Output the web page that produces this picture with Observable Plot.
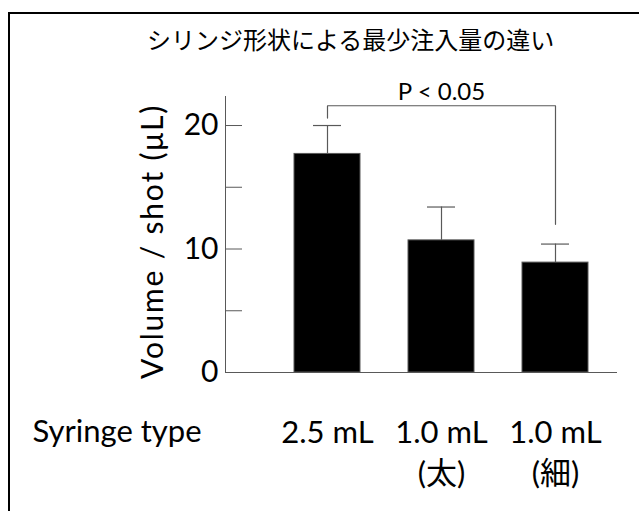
<!DOCTYPE html>
<html><head><meta charset="utf-8">
<script src="https://cdn.jsdelivr.net/npm/d3@7"></script>
<script src="https://cdn.jsdelivr.net/npm/@observablehq/plot@0.6"></script>
<style>
body{margin:0;background:#fff;}
#wrap{position:relative;width:639px;height:511px;overflow:hidden;background:#fff;}
#border{position:absolute;left:8px;top:12px;width:640px;height:520px;border-top:2px solid #000;border-left:2px solid #000;box-sizing:border-box;}
#title{position:absolute;left:147px;top:27px;white-space:nowrap;font-family:"Noto Sans CJK JP",sans-serif;font-size:24px;line-height:24px;color:#000;}
#chart{position:absolute;left:0;top:0;}
</style>
</head><body>
<div id="wrap"><div id="border"></div><div id="chart"></div><div id="title">シリンジ形状による最少注入量の違い</div></div>
<script>
const categories = ["2.5 mL", "1.0 mL (太)", "1.0 mL (細)"];
const means = [17.7, 10.7, 8.9];
const errors = [2.3, 2.7, 1.5];
const yTickLabels = [0, 10, 20];
const yTicksAll = [0, 5, 10, 15, 20];
const bracketCats = [categories[0], categories[0], categories[2], categories[2]];
const bracketVals = [20.6, 21.6, 21.6, 12.0];
const sigText = "P < 0.05";
const sigCat = categories[1];
const sigVal = 22.65;
const xTitle = "Syringe type";
const yTitle = "Volume / shot (μL)";

const data = categories.map((c, i) => ({type: c, value: means[i], upper: means[i] + errors[i]}));
const bracket = bracketCats.map((c, i) => ({x: c, y: bracketVals[i]}));
const gray = "#595959";
const font = "Lato, 'Noto Sans CJK JP', sans-serif";

const chart = Plot.plot({
  width: 639, height: 511,
  marginLeft: 225, marginRight: 22, marginTop: 96, marginBottom: 139,
  style: {fontFamily: font, color: "#000", background: "transparent", overflow: "visible"},
  x: {domain: categories, paddingInner: 0.42, paddingOuter: 0.422, align: 0.7, axis: null},
  y: {domain: [0, 22.35], axis: null},
  marks: [
    Plot.frame({anchor: "left", stroke: gray}),
    Plot.ruleY([0], {stroke: gray}),
    Plot.axisY({ticks: yTicksAll, tickSize: 17, dx: 17, tickFormat: () => "", label: null, stroke: gray}),
    Plot.axisY({ticks: yTickLabels, tickSize: 0, tickPadding: 7, fontSize: 30, label: null, fill: "#000"}),
    Plot.axisX({tickSize: 0, tickPadding: 41, fontSize: 31, lineHeight: 1.33, label: null, fill: "#000",
      tickFormat: d => d.replace(" (", "\n(")}),
    Plot.barY(data, {x: "type", y: "value", fill: "#000", stroke: gray, strokeWidth: 1}),
    Plot.ruleX(data, {x: "type", y1: "value", y2: "upper", stroke: gray, strokeWidth: 1.2}),
    Plot.tickY(data, {x: "type", y: "upper", insetLeft: 19, insetRight: 19, stroke: gray, strokeWidth: 1.2}),
    Plot.line(bracket, {x: "x", y: "y", stroke: gray, strokeWidth: 1.2}),
    Plot.text([sigText], {x: () => sigCat, y: () => sigVal, fontSize: 24, fill: "#000"}),
    Plot.text([yTitle], {frameAnchor: "left", textAnchor: "middle", lineAnchor: "middle", rotate: -90, dx: -72, dy: 7, fontSize: 30, fill: "#000"}),
    Plot.text([xTitle], {frameAnchor: "bottom-left", textAnchor: "start", lineAnchor: "top", dx: -193, dy: 47, fontSize: 31, fill: "#000"})
  ]
});
d3.select(chart).selectAll("text").filter(function() { return this.textContent === yTitle; }).attr("letter-spacing", 1.8);
document.getElementById("chart").appendChild(chart);
</script>
</body></html>
